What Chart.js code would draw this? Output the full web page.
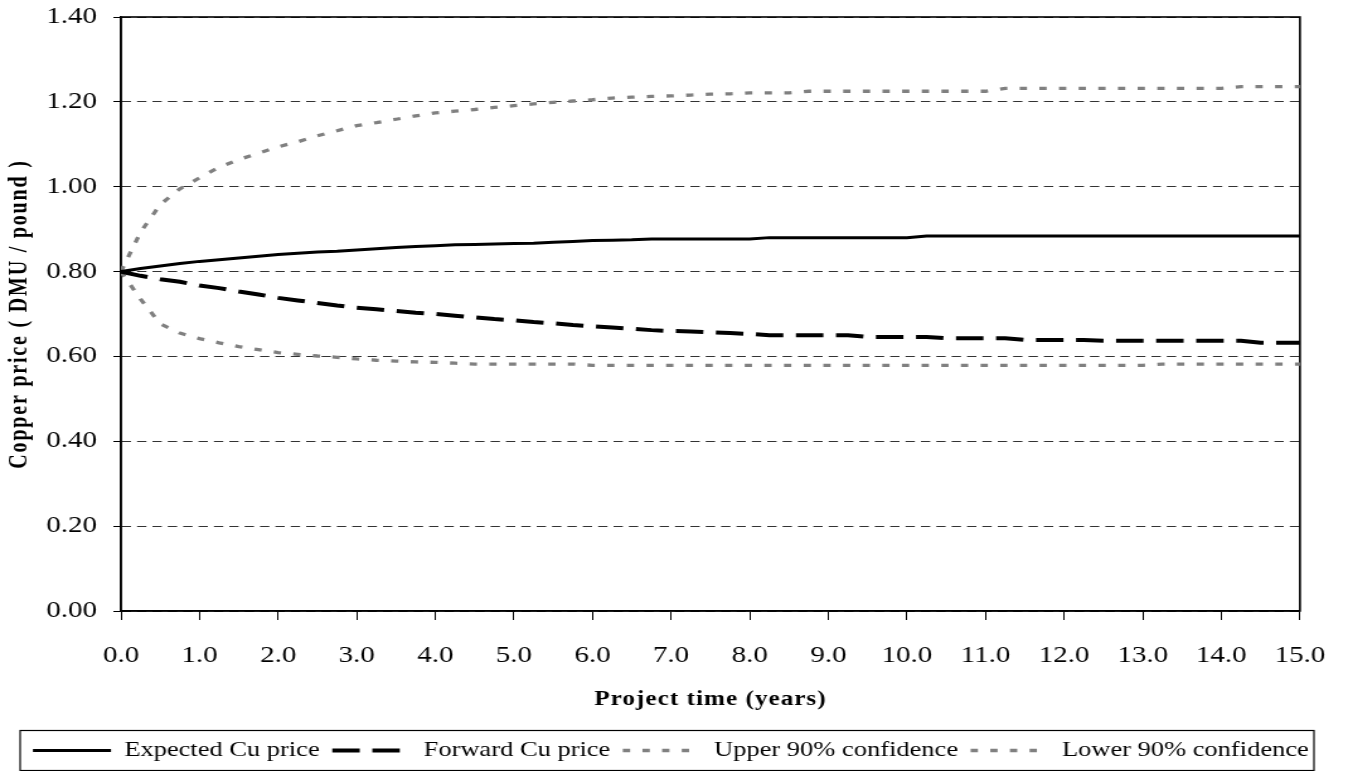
<!DOCTYPE html>
<html>
<head>
<meta charset="utf-8">
<script src="https://cdn.jsdelivr.net/npm/chart.js@4.4.0/dist/chart.umd.min.js"></script>
<style>
  html, body { margin: 0; padding: 0; background: #fff; overflow: hidden; }
  /* the original picture is stretched sideways, so the canvas is too */
  #wrap { width: 1074px; height: 771px; transform: scaleX(1.2598); transform-origin: 0 0; }
</style>
</head>
<body>
<div id="wrap"><canvas id="priceChart" width="1074" height="771"></canvas></div>
<script>
// time in years, quarterly
const tiempos = [
  0.00, 0.25, 0.50, 0.75, 1.00, 1.25, 1.50, 1.75, 2.00, 2.25, 2.50, 2.75,
  3.00, 3.25, 3.50, 3.75, 4.00, 4.25, 4.50, 4.75, 5.00, 5.25, 5.50, 5.75,
  6.00, 6.25, 6.50, 6.75, 7.00, 7.25, 7.50, 7.75, 8.00, 8.25, 8.50, 8.75,
  9.00, 9.25, 9.50, 9.75, 10.00, 10.25, 10.50, 10.75, 11.00, 11.25, 11.50, 11.75,
  12.00, 12.25, 12.50, 12.75, 13.00, 13.25, 13.50, 13.75, 14.00, 14.25, 14.50, 14.75,
  15.00
];

const precioEsperado = [
  0.800, 0.807, 0.813, 0.819, 0.824, 0.828, 0.832, 0.836, 0.840, 0.843, 0.846, 0.848,
  0.851, 0.854, 0.857, 0.859, 0.861, 0.863, 0.864, 0.865, 0.866, 0.867, 0.869, 0.871,
  0.873, 0.874, 0.875, 0.877, 0.877, 0.877, 0.877, 0.877, 0.877, 0.880, 0.880, 0.880,
  0.880, 0.880, 0.880, 0.880, 0.880, 0.884, 0.884, 0.884, 0.884, 0.884, 0.884, 0.884,
  0.884, 0.884, 0.884, 0.884, 0.884, 0.884, 0.884, 0.884, 0.884, 0.884, 0.884, 0.884,
  0.884
];

const precioForward = [
  0.800, 0.790, 0.782, 0.776, 0.767, 0.761, 0.753, 0.746, 0.738, 0.732, 0.726, 0.720,
  0.715, 0.711, 0.707, 0.703, 0.700, 0.696, 0.692, 0.688, 0.685, 0.681, 0.678, 0.674,
  0.671, 0.668, 0.665, 0.662, 0.660, 0.659, 0.657, 0.655, 0.653, 0.650, 0.650, 0.650,
  0.650, 0.650, 0.646, 0.646, 0.646, 0.646, 0.643, 0.643, 0.643, 0.643, 0.639, 0.639,
  0.639, 0.639, 0.637, 0.637, 0.637, 0.637, 0.637, 0.637, 0.637, 0.637, 0.632, 0.632,
  0.632
];

const superior90 = [
  0.800, 0.893, 0.958, 0.995, 1.021, 1.046, 1.064, 1.079, 1.094, 1.106, 1.120, 1.132,
  1.144, 1.151, 1.159, 1.167, 1.174, 1.178, 1.182, 1.187, 1.191, 1.195, 1.199, 1.202,
  1.205, 1.209, 1.211, 1.213, 1.214, 1.216, 1.218, 1.219, 1.221, 1.221, 1.221, 1.225,
  1.225, 1.225, 1.225, 1.225, 1.225, 1.225, 1.225, 1.225, 1.225, 1.232, 1.232, 1.232,
  1.232, 1.232, 1.232, 1.232, 1.232, 1.232, 1.232, 1.232, 1.232, 1.236, 1.236, 1.236,
  1.236
];

const inferior90 = [
  0.800, 0.735, 0.677, 0.655, 0.642, 0.632, 0.623, 0.616, 0.609, 0.605, 0.601, 0.598,
  0.594, 0.591, 0.589, 0.587, 0.586, 0.584, 0.582, 0.582, 0.582, 0.582, 0.582, 0.582,
  0.579, 0.579, 0.579, 0.579, 0.579, 0.579, 0.579, 0.579, 0.579, 0.579, 0.579, 0.579,
  0.579, 0.579, 0.579, 0.579, 0.579, 0.579, 0.579, 0.579, 0.579, 0.579, 0.579, 0.579,
  0.579, 0.579, 0.579, 0.579, 0.579, 0.582, 0.582, 0.582, 0.582, 0.582, 0.582, 0.582,
  0.582
];

const nombresSeries = ['Expected Cu price', 'Forward Cu price', 'Upper 90% confidence', 'Lower 90% confidence'];
const yTicks = [0, 0.2, 0.4, 0.6, 0.8, 1.0, 1.2, 1.4];

const FUENTE = '"Liberation Serif", "Times New Roman", serif';

function puntos(valores) {
    return tiempos.map((t, i) => ({ x: t, y: valores[i] }));
}

// marco del area del grafico y caja de la leyenda
const marco = {
    id: 'marco',
    beforeDatasetsDraw(chart) {
        const { ctx, chartArea: a } = chart;
        ctx.save();
        ctx.strokeStyle = '#000';
        ctx.lineWidth = 1.6;
        ctx.strokeRect(a.left, a.top, a.right - a.left, a.bottom - a.top);
        ctx.restore();
    },
    afterDraw(chart) {
        const { ctx, legend } = chart;
        ctx.save();
        ctx.strokeStyle = '#000';
        ctx.lineWidth = 1.2;
        ctx.strokeRect(16, legend.top + 0.5, 1043 - 16, legend.bottom - legend.top - 1);
        ctx.restore();
    }
};

// titulos de ejes con espaciado entre letras
const espaciado = {
    id: 'espaciado',
    beforeDraw(chart) {
        [['x', '0.8px'], ['y', '1.8px']].forEach(([id, ls]) => {
            const s = chart.scales[id];
            if (s._espaciado) return;
            const orig = s.drawTitle.bind(s);
            s.drawTitle = function () {
                const c = this.ctx;
                c.save();
                c.letterSpacing = ls;
                orig();
                c.restore();
            };
            s._espaciado = true;
        });
    }
};

const ctx = document.getElementById('priceChart').getContext('2d');

new Chart(ctx, {
    type: 'line',
    data: {
        datasets: [{
            label: nombresSeries[0],
            data: puntos(precioEsperado),
            borderColor: '#000',
            borderWidth: 3,
            pointRadius: 0,
            tension: 0
        }, {
            label: nombresSeries[1],
            data: puntos(precioForward),
            borderColor: '#000',
            borderWidth: 4,
            borderDash: [21.8, 10],
            pointRadius: 0,
            tension: 0
        }, {
            label: nombresSeries[2],
            data: puntos(superior90),
            borderColor: '#808080',
            borderWidth: 3.3,
            borderDash: [5.8, 9.8],
            pointRadius: 0,
            tension: 0
        }, {
            label: nombresSeries[3],
            data: puntos(inferior90),
            borderColor: '#808080',
            borderWidth: 3.3,
            borderDash: [5.8, 9.8],
            pointRadius: 0,
            tension: 0
        }]
    },
    options: {
        responsive: false,
        animation: false,
        devicePixelRatio: 1,
        layout: { padding: { top: 17, right: 9, bottom: 0, left: 0 } },
        plugins: {
            legend: {
                position: 'bottom',
                labels: {
                    usePointStyle: true,
                    pointStyle: 'line',
                    pointStyleWidth: 62,
                    padding: 10,
                    color: '#000',
                    font: { family: FUENTE, size: 21 },
                    generateLabels(chart) {
                        const items = Chart.defaults.plugins.legend.labels.generateLabels(chart);
                        items.forEach(it => {
                            const ds = chart.data.datasets[it.datasetIndex];
                            it.pointStyle = 'line';
                            it.strokeStyle = ds.borderColor;
                            it.lineWidth = ds.borderWidth;
                            it.lineDash = ds.borderDash || [];
                            it.lineCap = 'butt';
                        });
                        return items;
                    }
                }
            },
            title: { display: false },
            tooltip: { enabled: false }
        },
        scales: {
            x: {
                type: 'linear',
                min: 0,
                max: 15,
                afterFit(s) { s.height = 119; },
                border: { display: true, color: '#000', width: 1.6 },
                grid: { drawOnChartArea: false, drawTicks: true, tickLength: 9, color: '#000', lineWidth: 1 },
                ticks: {
                    stepSize: 1,
                    padding: 22,
                    color: '#000',
                    font: { family: FUENTE, size: 23 },
                    maxRotation: 0,
                    autoSkip: false,
                    callback: v => v.toFixed(1)
                },
                title: {
                    display: true,
                    text: 'Project time (years)',
                    color: '#000',
                    font: { family: FUENTE, size: 20, weight: 'bold' },
                    padding: { top: 0, bottom: 18 }
                }
            },
            y: {
                min: 0,
                max: 1.4,
                afterFit(s) {
                    s.width = 96;
                    s.paddingTop = 0;
                    s.paddingBottom = 0;
                },
                afterBuildTicks(s) { s.ticks = yTicks.map(v => ({ value: v })); },
                border: { display: true, color: '#000', width: 1.6, dash: [7.4, 4.8] },
                grid: { color: '#333', lineWidth: 1, tickLength: 6, tickColor: '#000', tickBorderDash: [] },
                ticks: {
                    padding: 13,
                    color: '#000',
                    font: { family: FUENTE, size: 23 },
                    callback: v => v.toFixed(2)
                },
                title: {
                    display: true,
                    text: 'Copper price ( DMU / pound )',
                    color: '#000',
                    font: { family: FUENTE, size: 20, weight: 'bold' },
                    padding: { top: 4, bottom: 0 }
                }
            },
            yR: {
                type: 'linear',
                position: 'right',
                afterFit(s) { s.width = 23; },
                border: { display: false },
                grid: { display: false, drawTicks: false },
                ticks: { display: false }
            }
        }
    },
    plugins: [marco, espaciado]
});
</script>
</body>
</html>
